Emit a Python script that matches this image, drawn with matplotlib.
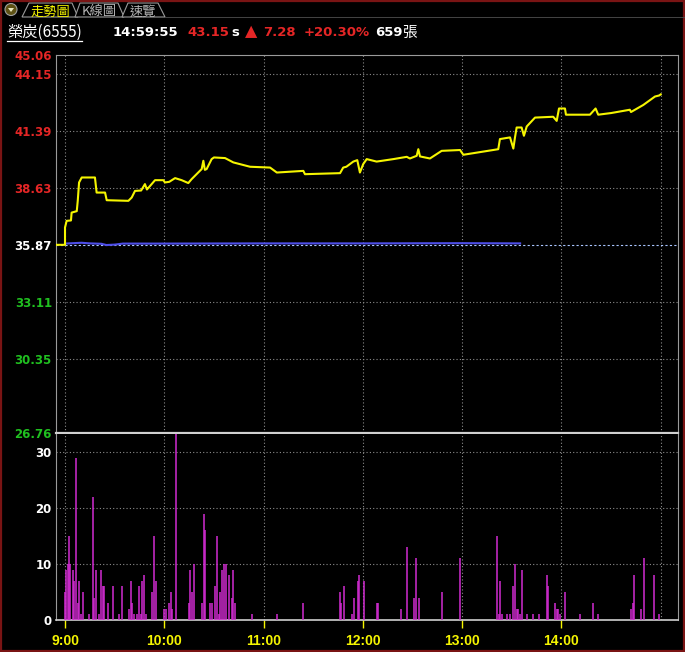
import matplotlib.pyplot as plt
from matplotlib.patches import Polygon, Circle, Rectangle

# intraday price (time, last price)
price_time = [
    "08:55:00", "09:00:00", "09:00:00", "09:01:00", "09:03:36", "09:04:00", "09:07:06", "09:07:42",
    "09:08:30", "09:10:06", "09:18:06", "09:19:06", "09:24:12", "09:25:12", "09:38:18", "09:40:18",
    "09:42:18", "09:46:00", "09:48:18", "09:49:30", "09:50:18", "09:54:24", "09:59:24", "10:00:24",
    "10:03:00", "10:06:30", "10:10:30", "10:14:30", "10:16:30", "10:22:36", "10:23:36", "10:24:30",
    "10:25:36", "10:28:36", "10:30:00", "10:36:42", "10:41:42", "10:51:48", "11:03:54", "11:08:00",
    "11:24:00", "11:25:00", "11:46:12", "11:48:06", "11:50:00", "11:54:12", "11:56:36", "11:58:12",
    "12:00:12", "12:02:18", "12:08:18", "12:18:24", "12:26:30", "12:28:24", "12:32:30", "12:33:30",
    "12:34:30", "12:40:30", "12:47:36", "12:58:42", "13:00:42", "13:21:48", "13:22:48", "13:28:54",
    "13:30:54", "13:31:54", "13:32:54", "13:35:54", "13:37:18", "13:39:00", "13:44:00", "13:55:00",
    "13:57:06", "13:58:30", "14:02:06", "14:02:42", "14:17:12", "14:20:36", "14:22:12", "14:30:00",
    "14:41:18", "14:42:00", "14:49:24", "14:56:30", "14:59:00", "14:59:55",
]
price = [
    35.87, 35.87, 36.71, 37.03, 37.05, 37.43, 37.50, 38.00,
    38.89, 39.13, 39.13, 38.40, 38.40, 38.03, 38.00, 38.16,
    38.48, 38.50, 38.81, 38.55, 38.62, 39.00, 39.00, 38.89,
    38.92, 39.10, 39.00, 38.86, 39.05, 39.54, 39.94, 39.50,
    39.54, 40.02, 40.10, 40.07, 39.86, 39.65, 39.61, 39.37,
    39.45, 39.29, 39.34, 39.61, 39.65, 39.90, 39.97, 39.37,
    39.78, 40.02, 39.90, 40.02, 40.13, 40.05, 40.18, 40.50,
    40.15, 40.05, 40.42, 40.46, 40.23, 40.50, 40.99, 41.07,
    40.53, 41.07, 41.55, 41.55, 41.15, 41.60, 42.03, 42.07,
    41.87, 42.47, 42.47, 42.17, 42.17, 42.47, 42.17, 42.25,
    42.41, 42.30, 42.64, 43.05, 43.10, 43.15,
]

# average price line
avg_time = ["09:00:00", "09:10:00", "09:15:00", "09:22:00", "09:25:00", "09:30:00", "09:35:00",
            "10:00:00", "11:00:00", "12:00:00", "13:00:00", "13:35:00"]
avg_price = [35.93, 35.97, 35.94, 35.92, 35.86, 35.88, 35.93, 35.93, 35.94, 35.94, 35.95, 35.94]

# volume (張)
vol_time = [
    "09:00:12", "09:00:36", "09:02:00", "09:02:36", "09:03:00", "09:04:36", "09:05:24", "09:06:48",
    "09:08:06", "09:08:42", "09:09:42", "09:10:54", "09:14:42", "09:16:54", "09:17:30", "09:18:42",
    "09:20:42", "09:21:48", "09:23:12", "09:23:48", "09:26:12", "09:29:12", "09:32:48", "09:34:36",
    "09:38:54", "09:39:54", "09:40:30", "09:41:54", "09:43:42", "09:44:42", "09:45:54", "09:46:42",
    "09:47:54", "09:49:06", "09:52:48", "09:54:00", "09:55:12", "10:00:00", "10:01:12", "10:03:00",
    "10:04:00", "10:04:48", "10:07:18", "10:15:06", "10:15:42", "10:16:54", "10:18:06", "10:23:00",
    "10:24:00", "10:24:36", "10:27:48", "10:29:00", "10:30:48", "10:31:48", "10:33:12", "10:33:48",
    "10:35:00", "10:36:12", "10:37:06", "10:39:18", "10:40:42", "10:41:30", "10:42:42", "10:53:12",
    "11:08:18", "11:24:00", "11:46:18", "11:47:00", "11:48:48", "11:53:12", "11:54:48", "11:57:12",
    "11:57:48", "12:00:42", "12:08:18", "12:09:18", "12:23:12", "12:26:48", "12:31:06", "12:32:18",
    "12:34:06", "12:48:00", "12:58:54", "13:21:12", "13:22:24", "13:23:00", "13:24:12", "13:27:18",
    "13:29:06", "13:30:54", "13:32:06", "13:33:18", "13:33:54", "13:35:06", "13:36:18", "13:39:18",
    "13:42:54", "13:46:12", "13:51:24", "13:52:00", "13:56:18", "13:57:30", "13:58:06", "13:59:18",
    "14:02:18", "14:11:18", "14:19:12", "14:22:12", "14:42:12", "14:43:24", "14:44:00", "14:48:12",
    "14:50:00", "14:56:00", "14:59:00",
]
vol = [
    5, 9, 10, 15, 10, 9, 7, 29,
    3, 7, 1, 5, 1, 22, 4, 9,
    1, 9, 6, 6, 3, 6, 1, 6,
    2, 7, 3, 1, 1, 6, 1, 7,
    8, 1, 5, 15, 7, 2, 2, 3,
    5, 2, 33.2, 3, 9, 5, 10, 3,
    19, 16, 3, 3, 6, 15, 1, 5,
    9, 10, 10, 8, 4, 9, 3, 1,
    1, 3, 5, 3, 6, 1, 4, 7,
    8, 7, 3, 3, 2, 13, 4, 11,
    4, 5, 11, 15, 1, 7, 1, 1,
    1, 6, 10, 2, 2, 1, 9, 1,
    1, 1, 8, 6, 3, 2, 2, 1,
    5, 1, 3, 1, 2, 3, 8, 2,
    11, 8, 1,
]

price_ticks = [26.76, 30.35, 33.11, 35.87, 38.63, 41.39, 44.15, 45.06]
ref_price = 35.87
vol_ticks = [0, 10, 20, 30]
hour_labels = ["9:00", "10:00", "11:00", "12:00", "13:00", "14:00"]
grid_hours = [0, 60, 120, 180, 240, 300, 360]

RED = "#e52626"
GREEN = "#20c020"
YELLOW = "#f5f500"
GRID = "#8c8c8c"
CJK = ["Noto Sans CJK TC", "DejaVu Sans"]


def to_min(s):
    h, m, sec = (int(v) for v in s.split(":"))
    return (h - 9) * 60 + m + sec / 60


W, H = 685, 652
fig = plt.figure(figsize=(W / 100, H / 100), dpi=100, facecolor="black")

# pixel overlay for header and frame
bg = fig.add_axes([0, 0, 1, 1])
bg.set_xlim(0, W)
bg.set_ylim(H, 0)
bg.axis("off")
bg.set_facecolor("black")

left, right = 56, 678
p_top, p_bot = 55, 433
v_top, v_bot = 434, 620
xlim = (-5.44, 370.4)

ax = fig.add_axes([left / W, 1 - p_bot / H, (right - left) / W, (p_bot - p_top) / H])
axv = fig.add_axes([left / W, 1 - v_bot / H, (right - left) / W, (v_bot - v_top) / H])

# ---- price panel
ax.set_facecolor("black")
ax.set_xlim(*xlim)
ax.set_ylim(price_ticks[0], price_ticks[-1])
for h in grid_hours:
    ax.axvline(h, color=GRID, lw=0.8, ls=(0, (1, 2)), zorder=1)
for p in price_ticks[1:-1]:
    if p != ref_price:
        ax.axhline(p, color=GRID, lw=0.8, ls=(0, (1, 2)), zorder=1)
ax.axhline(ref_price, color="#a8c4ff", lw=0.8, ls=(0, (2, 2)), zorder=2)
ax.plot([to_min(t) for t in avg_time], avg_price, color="#4e4ee8", lw=1.5, zorder=3)
ax.plot([to_min(t) for t in price_time], price, color=YELLOW, lw=1.5, zorder=4)

ax.set_xticks([])
ax.set_yticks(price_ticks)
ax.set_yticklabels([f"{p:.2f}" for p in price_ticks], fontsize=8.5, fontweight="bold",
                   family="DejaVu Sans")
for lab, p in zip(ax.get_yticklabels(), price_ticks):
    lab.set_color(RED if p > ref_price else ("white" if p == ref_price else GREEN))
ax.tick_params(axis="y", length=0, pad=3)
for s in ["left", "top", "right"]:
    ax.spines[s].set_color("#9a9a9a")
    ax.spines[s].set_linewidth(0.8)
ax.spines["bottom"].set_color("#d0d0d0")
ax.spines["bottom"].set_linewidth(1.6)

# ---- volume panel
axv.set_facecolor("black")
axv.set_xlim(*xlim)
axv.set_ylim(0, 33.2)
for h in grid_hours:
    axv.axvline(h, color=GRID, lw=0.8, ls=(0, (1, 2)), zorder=1)
for v in vol_ticks[1:]:
    axv.axhline(v, color=GRID, lw=0.8, ls=(0, (1, 2)), zorder=1)
axv.vlines([to_min(t) for t in vol_time], 0, vol, color="#d22cd2", lw=1.1, zorder=3)

axv.set_yticks(vol_ticks)
axv.set_yticklabels([str(v) for v in vol_ticks], fontsize=8.5, fontweight="bold",
                    family="DejaVu Sans", color="white")
axv.tick_params(axis="y", length=0, pad=3)
axv.set_xticks(grid_hours[:-1])
axv.set_xticklabels(hour_labels, fontsize=10, fontweight="bold", family="Liberation Sans",
                    color=YELLOW)
axv.tick_params(axis="x", length=5.5, width=1.0, color=YELLOW, pad=4.5)
for s in ["left", "right"]:
    axv.spines[s].set_color("#9a9a9a")
    axv.spines[s].set_linewidth(0.8)
axv.spines["top"].set_visible(False)
axv.spines["bottom"].set_color("#d0d0d0")
axv.spines["bottom"].set_linewidth(1.2)

# ---- header: tabs
bg.add_patch(Circle((11, 9.5), 6, fc="#5e5214", ec="#a0a0a0", lw=0.8))
bg.add_patch(Polygon([(8, 8), (14, 8), (11, 12)], closed=True, fc="#e8e8c0", ec="none"))
tabs = [([(22, 17), (29, 3), (72, 3), (78, 17)], "走勢圖", 50, YELLOW),
        ([(75, 17), (80, 3), (118, 3), (124, 17)], "K線圖", 99, "#b4b4b4"),
        ([(122, 17), (128, 3), (158, 3), (165, 17)], "速覽", 143, "#b4b4b4")]
for pts, name, cx, col in tabs:
    bg.add_patch(Polygon(pts, closed=True, fc="black", ec="#9a9a9a", lw=0.8))
    bg.text(cx, 15.5, name, color=col, fontsize=9.5, family=CJK, ha="center", va="baseline")
bg.plot([165, W], [17, 17], color="#505050", lw=0.6)

# ---- header: quote line
base = 36.5
bg.text(7, base, "榮炭(6555)", color="white", fontsize=11, family=CJK, va="baseline")
bg.plot([7, 82], [41, 41], color="white", lw=0.9)
quote = [(113, "14:59:55", "white"), (187, "43.15", RED), (231, "s", "white"),
         (263, "7.28", RED), (304, "+20.30%", RED), (375, "659", "white")]
for x, s, c in quote:
    bg.text(x, base, s, color=c, fontsize=9.5, fontweight="bold", family="DejaVu Sans",
            va="baseline")
bg.text(245, base, "▲", color=RED, fontsize=11.5, family="DejaVu Sans", va="baseline")
bg.text(402, base, "張", color="white", fontsize=10.5, family=CJK, va="baseline")

# outer frame
bg.add_patch(Rectangle((1, 1), W - 2, H - 2, fill=False, ec="#7a1414", lw=1.6))

fig.savefig("out.png", dpi=100, facecolor="black")
